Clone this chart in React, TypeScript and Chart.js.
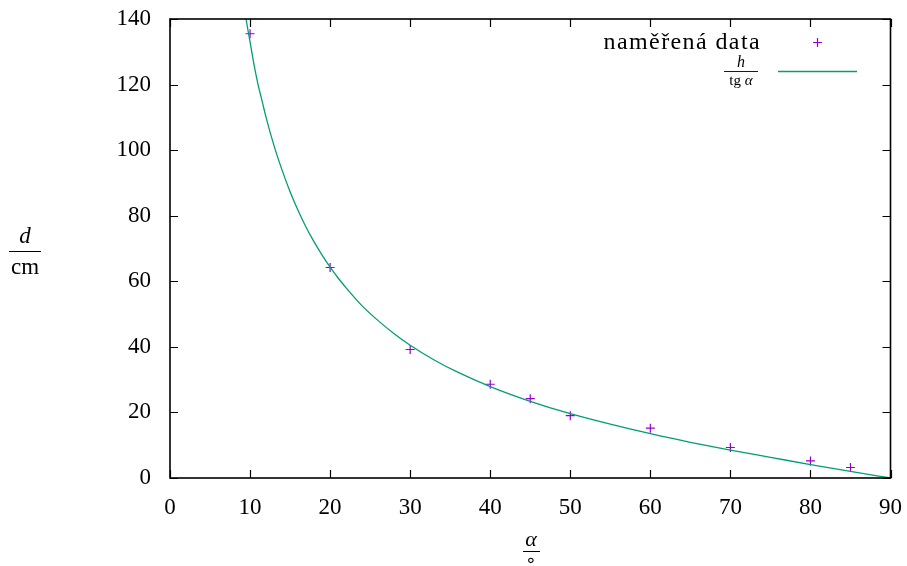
import React, { useEffect, useRef } from "react";
import { Chart, registerables } from "chart.js";

Chart.register(...registerables);

// Measured data (alpha in degrees, d in cm)
const measuredAlpha = [10, 20, 30, 40, 45, 50, 60, 70, 80, 85];
const measuredD = [135.5, 64.2, 39.2, 28.6, 24.2, 19.0, 15.2, 9.3, 5.2, 3.2];

// Curve h / tg(alpha)
const curveAlpha = [9, 9.5, 10, 10.5, 11, 11.5, 12, 13, 14, 15, 16, 17, 18, 19, 20, 21, 22, 24, 26, 28, 30, 33, 36, 40, 45, 50, 55, 60, 65, 70, 75, 80, 85, 90];
const curveD = [148, 140, 133, 126, 120, 115, 110, 101.3, 93.9, 87.3, 81.6, 76.5, 72, 68, 64.3, 61, 58, 52.5, 48, 44, 40.5, 36, 32.2, 27.9, 23.4, 19.6, 16.4, 13.5, 10.9, 8.5, 6.3, 4.1, 2.0, 0];

const xTicks = [0, 10, 20, 30, 40, 50, 60, 70, 80, 90];
const yTicks = [0, 20, 40, 60, 80, 100, 120, 140];

const legendMeasured = "naměřená data";
const POINT_COLOR = "#9400d3";
const LINE_COLOR = "#009e73";
const SERIF = "'Liberation Serif', 'DejaVu Serif', serif";

const decorPlugin = {
  id: "decor",
  afterDraw(chart: any) {
    const ctx = chart.ctx as CanvasRenderingContext2D;
    const { left, right, top, bottom } = chart.chartArea;
    const xs = chart.scales.x;
    const ys = chart.scales.y;
    ctx.save();
    // ticks (inward, mirrored)
    ctx.strokeStyle = "#000";
    ctx.lineWidth = 1.2;
    ctx.beginPath();
    for (const t of xTicks) {
      const px = Math.round(xs.getPixelForValue(t)) + 0.5;
      ctx.moveTo(px, bottom);
      ctx.lineTo(px, bottom - 8);
      ctx.moveTo(px, top);
      ctx.lineTo(px, top + 8);
    }
    for (const t of yTicks) {
      const py = Math.round(ys.getPixelForValue(t)) + 0.5;
      ctx.moveTo(left, py);
      ctx.lineTo(left + 8, py);
      ctx.moveTo(right, py);
      ctx.lineTo(right - 8, py);
    }
    ctx.stroke();
    // box
    ctx.lineWidth = 1.6;
    ctx.strokeRect(left, top, right - left, bottom - top);

    ctx.fillStyle = "#000";
    ctx.textAlign = "center";
    ctx.textBaseline = "middle";
    // y axis title: d / cm
    ctx.font = `italic 23px ${SERIF}`;
    ctx.fillText("d", 25, 237);
    ctx.lineWidth = 1;
    ctx.beginPath();
    ctx.moveTo(9, 251.5);
    ctx.lineTo(41, 251.5);
    ctx.stroke();
    ctx.font = `23px ${SERIF}`;
    ctx.fillText("cm", 25, 268);

    // x axis title: alpha / circ
    ctx.font = `italic 22px ${SERIF}`;
    ctx.fillText("α", 531, 540);
    ctx.beginPath();
    ctx.moveTo(523, 551.5);
    ctx.lineTo(540, 551.5);
    ctx.stroke();
    ctx.font = `18px 'DejaVu Sans', ${SERIF}`;
    ctx.fillText("∘", 531, 561);

    // legend
    ctx.textAlign = "right";
    ctx.font = `24px ${SERIF}`;
    (ctx as any).letterSpacing = "1.4px";
    ctx.fillText(legendMeasured, 761, 43);
    (ctx as any).letterSpacing = "0px";
    ctx.strokeStyle = POINT_COLOR;
    ctx.lineWidth = 1.2;
    ctx.beginPath();
    ctx.moveTo(813, 42.5);
    ctx.lineTo(822, 42.5);
    ctx.moveTo(817.5, 38);
    ctx.lineTo(817.5, 47);
    ctx.stroke();

    ctx.textAlign = "center";
    ctx.font = `italic 16px ${SERIF}`;
    ctx.fillText("h", 741, 63);
    ctx.strokeStyle = "#000";
    ctx.lineWidth = 0.9;
    ctx.beginPath();
    ctx.moveTo(724, 71.5);
    ctx.lineTo(758, 71.5);
    ctx.stroke();
    ctx.textAlign = "left";
    ctx.font = `15px ${SERIF}`;
    const tgW = ctx.measureText("tg ").width;
    ctx.font = `italic 15px ${SERIF}`;
    const aW = ctx.measureText("α").width;
    const startX = 741 - (tgW + aW) / 2;
    ctx.font = `15px ${SERIF}`;
    ctx.fillText("tg ", startX, 81);
    ctx.font = `italic 15px ${SERIF}`;
    ctx.fillText("α", startX + tgW, 81);

    ctx.strokeStyle = LINE_COLOR;
    ctx.lineWidth = 1.3;
    ctx.beginPath();
    ctx.moveTo(778, 71.5);
    ctx.lineTo(857, 71.5);
    ctx.stroke();
    ctx.restore();
  },
};

export default function App() {
  const ref = useRef<HTMLCanvasElement | null>(null);
  useEffect(() => {
    if (!ref.current) return;
    const chart = new Chart(ref.current, {
      type: "scatter",
      data: {
        datasets: [
          {
            label: "h / tg α",
            type: "line",
            data: curveAlpha.map((a, i) => ({ x: a, y: curveD[i] })),
            borderColor: LINE_COLOR,
            borderWidth: 1.3,
            pointRadius: 0,
            cubicInterpolationMode: "monotone",
            fill: false,
          } as any,
          {
            label: legendMeasured,
            data: measuredAlpha.map((a, i) => ({ x: a, y: measuredD[i] })),
            pointStyle: "cross",
            pointRadius: 4.5,
            borderColor: POINT_COLOR,
            backgroundColor: POINT_COLOR,
            borderWidth: 1.2,
          } as any,
        ],
      },
      options: {
        animation: false,
        responsive: true,
        maintainAspectRatio: false,
        layout: { padding: { top: 19, right: 16.5, left: 0, bottom: 0 } },
        plugins: { legend: { display: false }, tooltip: { enabled: false } },
        scales: {
          x: {
            type: "linear",
            min: 0,
            max: 90,
            afterBuildTicks: (s: any) => {
              s.ticks = xTicks.map((v) => ({ value: v }));
            },
            afterFit: (s: any) => {
              s.height = 88;
              s.paddingLeft = 0;
              s.paddingRight = 0;
            },
            grid: { display: false },
            border: { display: false },
            ticks: {
              color: "#000",
              font: { family: SERIF, size: 23 },
              padding: 8,
              maxRotation: 0,
            },
          },
          y: {
            type: "linear",
            min: 0,
            max: 140,
            afterBuildTicks: (s: any) => {
              s.ticks = yTicks.map((v) => ({ value: v }));
            },
            afterFit: (s: any) => {
              s.width = 170;
              s.paddingTop = 0;
              s.paddingBottom = 0;
            },
            grid: { display: false },
            border: { display: false },
            ticks: {
              color: "#000",
              font: { family: SERIF, size: 23 },
              padding: 11,
            },
          },
        },
      },
      plugins: [decorPlugin],
    });
    return () => chart.destroy();
  }, []);
  return (
    <div style={{ position: "absolute", left: 0, top: 0, width: 907, height: 566 }}>
      <canvas ref={ref} />
    </div>
  );
}
